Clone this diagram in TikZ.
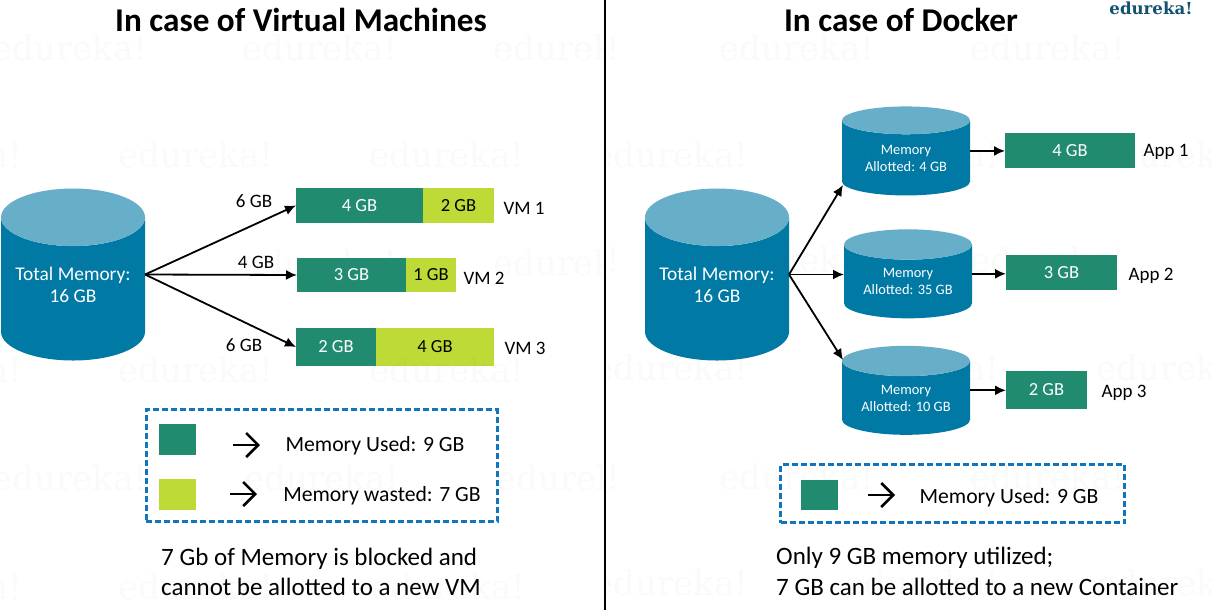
\documentclass[tikz,border=0pt]{standalone}
\usepackage{fontspec}
\setmainfont{Carlito}
\newfontfamily\markfont{DejaVu Serif}
\usetikzlibrary{shapes.geometric,arrows.meta}
\definecolor{drumBody}{HTML}{0079A5}
\definecolor{drumTop}{HTML}{67AFC8}
\definecolor{usedGreen}{HTML}{218B70}
\definecolor{wasteLime}{HTML}{BEDA36}
\definecolor{legendBlue}{HTML}{0F75BD}
\definecolor{brandBlue}{HTML}{14536F}
\tikzstyle{drumBig}=[shape = cylinder, shape border rotate = 90, aspect = 0.5, minimum width = 144pt, minimum height = 172pt, inner sep = 0pt, outer sep = 0pt, cylinder uses custom fill, cylinder body fill = drumBody, cylinder end fill = drumTop, text = white, font = \fontsize{19.4}{22}\selectfont, align = center, text depth = 8pt]
\tikzstyle{drumSmall}=[shape = cylinder, shape border rotate = 90, aspect = 0.34, minimum width = 128pt, minimum height = 89pt, inner sep = 0pt, outer sep = 0pt, cylinder uses custom fill, cylinder body fill = drumBody, cylinder end fill = drumTop, text = white, font = \fontsize{14.4}{17}\selectfont, align = center]
\tikzstyle{usedBar}=[shape = rectangle, inner sep = 0pt, outer sep = 0pt, fill = usedGreen, text = white, font = \fontsize{18.5}{20}\selectfont]
\tikzstyle{wasteBar}=[shape = rectangle, inner sep = 0pt, outer sep = 0pt, fill = wasteLime, font = \fontsize{18.5}{20}\selectfont]
\tikzstyle{plainLabel}=[inner sep = 0pt, font = \fontsize{19}{22}\selectfont]
\tikzstyle{keyLabel}=[inner sep = 0pt, font = \fontsize{21.7}{24}\selectfont]
\tikzstyle{titleLabel}=[inner sep = 0pt, font = \fontsize{33.2}{36}\selectfont\bfseries]
\tikzstyle{noteLabel}=[inner sep = 0pt, anchor = west, font = \fontsize{25}{28}\selectfont]
\tikzstyle{legendBox}=[shape = rectangle, inner sep = 0pt, draw = legendBlue, line width = 3pt, dash pattern = on 6pt off 3pt]
\tikzstyle{flowEdge}=[line width = 1.8pt, -{Latex[length = 11pt, width = 10pt]}]
\tikzstyle{legendEdge}=[line width = 2.5pt, -{Straight Barb[length = 12pt, width = 24pt]}]
\tikzstyle{markLabel}=[inner sep = 0pt, text = black!50, opacity = 0.035, font = \fontsize{34}{36}\selectfont\markfont]
\begin{document}
\begin{tikzpicture}[x = 1pt, y = -1pt]
\useasboundingbox (0,0) rectangle (1212,610);
\fill[white] (0,0) rectangle (1212,610);
\node[shape = rectangle, fill = black, inner sep = 0pt, minimum width = 2pt, minimum height = 610pt] (divider) at (605,305) {};
\node[titleLabel] (titleVM) at (301,20) {In case of Virtual Machines};
\node[titleLabel] (titleDocker) at (901,20) {In case of Docker};
\node[inner sep = 0pt, text = brandBlue, font = \fontsize{16.6}{20}\selectfont\markfont\bfseries] (brand) at (1151,8) {edureka!};
% virtual machines
\node[drumBig] (totalVM) at (73,289) {Total Memory:\\16 GB};
\node[usedBar, minimum width = 127pt, minimum height = 35pt] (vmOneUsed) at (359.5,205.5) {4 GB};
\node[wasteBar, minimum width = 71pt, minimum height = 35pt] (vmOneWaste) at (458.5,205.5) {2 GB};
\node[usedBar, minimum width = 109pt, minimum height = 34pt] (vmTwoUsed) at (351.5,275) {3 GB};
\node[wasteBar, minimum width = 50pt, minimum height = 34pt] (vmTwoWaste) at (431,275) {1 GB};
\node[usedBar, minimum width = 80pt, minimum height = 38pt] (vmThreeUsed) at (336,347) {2 GB};
\node[wasteBar, minimum width = 118pt, minimum height = 38pt] (vmThreeWaste) at (435,347) {4 GB};
\node[plainLabel] (vmOneName) at (524,208) {VM 1};
\node[plainLabel] (vmTwoName) at (484,278) {VM 2};
\node[plainLabel] (vmThreeName) at (525,348) {VM 3};
\node[plainLabel] (sizeOne) at (254,201) {6 GB};
\node[plainLabel] (sizeTwo) at (256,262) {4 GB};
\node[plainLabel] (sizeThree) at (244,345) {6 GB};
\draw[flowEdge] (totalVM.shape center -| totalVM.east) -- (vmOneUsed.west);
\draw[flowEdge] (totalVM.shape center -| totalVM.east) -- (vmTwoUsed.west);
\draw[flowEdge] (totalVM.shape center -| totalVM.east) -- (vmThreeUsed.west);
\node[legendBox, minimum width = 351pt, minimum height = 112pt] (legendVM) at (321.5,465.5) {};
\node[usedBar, minimum width = 37pt, minimum height = 31pt] (keyUsedVM) at (177.5,439.5) {};
\node[wasteBar, minimum width = 37pt, minimum height = 31pt] (keyWasteVM) at (177.5,494.5) {};
\coordinate (usedFromVM) at (233,445);
\coordinate (usedToVM) at (260,445);
\coordinate (wasteFromVM) at (230,494);
\coordinate (wasteToVM) at (257,494);
\draw[legendEdge] (usedFromVM) -- (usedToVM);
\draw[legendEdge] (wasteFromVM) -- (wasteToVM);
\node[keyLabel] (textUsedVM) at (375,446) {Memory Used: 9 GB};
\node[keyLabel] (textWasteVM) at (382,496) {Memory wasted: 7 GB};
\node[noteLabel] (noteVMa) at (161,559) {7 Gb of Memory is blocked and};
\node[noteLabel] (noteVMb) at (161,587) {cannot be allotted to a new VM};
% docker
\node[drumBig] (totalDocker) at (717,289) {Total Memory:\\16 GB};
\node[drumSmall] (memOne) at (906,158) {Memory\\Allotted: 4 GB};
\node[drumSmall] (memTwo) at (908,281.5) {Memory\\Allotted: 35 GB};
\node[drumSmall] (memThree) at (906,398) {Memory\\Allotted: 10 GB};
\node[usedBar, minimum width = 130pt, minimum height = 35pt] (appOneBar) at (1070,150.5) {4 GB};
\node[usedBar, minimum width = 111pt, minimum height = 35pt] (appTwoBar) at (1061.5,272.5) {3 GB};
\node[usedBar, minimum width = 81pt, minimum height = 38pt] (appThreeBar) at (1046.5,390) {2 GB};
\node[plainLabel] (appOneName) at (1166,152) {App 1};
\node[plainLabel] (appTwoName) at (1151,276) {App 2};
\node[plainLabel] (appThreeName) at (1124,393) {App 3};
\coordinate (memOneIn) at (843,185);
\coordinate (memThreeIn) at (843,360);
\draw[flowEdge] (totalDocker.shape center -| totalDocker.east) -- (memOneIn);
\draw[flowEdge] (totalDocker.shape center -| totalDocker.east) -- (totalDocker.shape center -| memTwo.west);
\draw[flowEdge] (totalDocker.shape center -| totalDocker.east) -- (memThreeIn);
\draw[flowEdge] (memOne.shape center -| memOne.east) -- (memOne.shape center -| appOneBar.west);
\draw[flowEdge] (memTwo.shape center -| memTwo.east) -- (memTwo.shape center -| appTwoBar.west);
\draw[flowEdge] (memThree.shape center -| memThree.east) -- (memThree.shape center -| appThreeBar.west);
\node[legendBox, minimum width = 344pt, minimum height = 58pt] (legendDocker) at (952.5,493.5) {};
\node[usedBar, minimum width = 37pt, minimum height = 30pt] (keyUsedDocker) at (819.5,495) {};
\coordinate (usedFromDocker) at (868,495);
\coordinate (usedToDocker) at (895,495);
\draw[legendEdge] (usedFromDocker) -- (usedToDocker);
\node[keyLabel] (textUsedDocker) at (1009,498) {Memory Used: 9 GB};
\node[noteLabel] (noteDockerA) at (776,558) {Only 9 GB memory utilized;};
\node[noteLabel] (noteDockerB) at (776,587) {7 GB can be allotted to a new Container};
% faint marks, left panel
\begin{scope}
\clip (0,0) rectangle (604,610);
\node[markLabel] (markA1) at (70,48) {edureka!};
\node[markLabel] (markA2) at (320,48) {edureka!};
\node[markLabel] (markA3) at (571,48) {edureka!};
\node[markLabel] (markB1) at (-55,155) {edureka!};
\node[markLabel] (markB2) at (196,155) {edureka!};
\node[markLabel] (markB3) at (447,155) {edureka!};
\node[markLabel] (markC1) at (70,263) {edureka!};
\node[markLabel] (markC2) at (320,263) {edureka!};
\node[markLabel] (markC3) at (571,263) {edureka!};
\node[markLabel] (markD1) at (-55,370) {edureka!};
\node[markLabel] (markD2) at (196,370) {edureka!};
\node[markLabel] (markD3) at (447,370) {edureka!};
\node[markLabel] (markE1) at (70,478) {edureka!};
\node[markLabel] (markE2) at (322,478) {edureka!};
\node[markLabel] (markE3) at (574,478) {edureka!};
\node[markLabel] (markF1) at (-55,587) {edureka!};
\node[markLabel] (markF2) at (196,587) {edureka!};
\node[markLabel] (markF3) at (448,587) {edureka!};
\end{scope}
% faint marks, right panel
\begin{scope}
\clip (606,0) rectangle (1212,610);
\node[markLabel] (markG1) at (543,48) {edureka!};
\node[markLabel] (markG2) at (797,48) {edureka!};
\node[markLabel] (markG3) at (1048,48) {edureka!};
\node[markLabel] (markH1) at (671,155) {edureka!};
\node[markLabel] (markH2) at (922,155) {edureka!};
\node[markLabel] (markH3) at (1174,155) {edureka!};
\node[markLabel] (markI1) at (543,260) {edureka!};
\node[markLabel] (markI2) at (797,260) {edureka!};
\node[markLabel] (markI3) at (1048,260) {edureka!};
\node[markLabel] (markJ1) at (671,368) {edureka!};
\node[markLabel] (markJ2) at (922,368) {edureka!};
\node[markLabel] (markJ3) at (1174,368) {edureka!};
\node[markLabel] (markK1) at (543,477) {edureka!};
\node[markLabel] (markK2) at (797,477) {edureka!};
\node[markLabel] (markK3) at (1048,477) {edureka!};
\node[markLabel] (markL1) at (671,583) {edureka!};
\node[markLabel] (markL2) at (922,583) {edureka!};
\node[markLabel] (markL3) at (1174,583) {edureka!};
\end{scope}
\end{tikzpicture}
\end{document}
